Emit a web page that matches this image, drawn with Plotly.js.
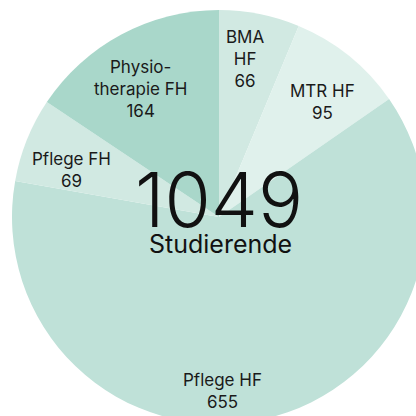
<!DOCTYPE html>
<html>
<head>
<meta charset="utf-8">
<script src="https://cdn.plot.ly/plotly-3.0.1.min.js"></script>
<style>
  html, body { margin: 0; padding: 0; overflow: hidden; background: #ffffff; }
  #chart { width: 440px; height: 440px; }
</style>
</head>
<body>
<div id="chart"></div>
<script>
// Data
const categories = ["BMA HF", "MTR HF", "Pflege HF", "Pflege FH", "Physiotherapie FH"];
const labelLines = [["BMA", "HF"], ["MTR HF"], ["Pflege HF"], ["Pflege FH"], ["Physio-", "therapie FH"]];
const values = [66, 95, 655, 69, 164];
const totalLabel = "Studierende";

// Styles
const colors = ["#d1e9e2", "#e0f1ec", "#bfe1d8", "#d1e9e2", "#a9d7ca"];
const labelPixelPos = [[245, 59], [322, 102], [222, 391], [71, 170], [140, 89]];

const W = 440, H = 440;
const M = { l: 12, r: 14, t: 10, b: 16 };
const PW = W - M.l - M.r, PH = H - M.t - M.b;
const px = x => (x - M.l) / PW;
const py = y => 1 - (y - M.t) / PH;

const total = values.reduce((a, b) => a + b, 0);
const fontFam = "Inter, 'Liberation Sans', Arial, sans-serif";

const annotations = categories.map((c, i) => ({
  text: labelLines[i].concat([String(values[i])]).join("<br>"),
  x: px(labelPixelPos[i][0]), y: py(labelPixelPos[i][1]),
  xref: "paper", yref: "paper", showarrow: false,
  xanchor: "center", yanchor: "middle",
  font: { family: fontFam, size: 17, color: "#1a1a1a" }
}));
annotations.push({
  text: String(total), x: px(219), y: py(199), xref: "paper", yref: "paper",
  showarrow: false, xanchor: "center", yanchor: "middle",
  font: { family: fontFam, size: 75, color: "#111111", weight: 300 }
});
annotations.push({
  text: totalLabel, x: px(220), y: py(244), xref: "paper", yref: "paper",
  showarrow: false, xanchor: "center", yanchor: "middle",
  font: { family: fontFam, size: 25, color: "#111111" }
});

const trace = {
  type: "pie",
  labels: categories,
  values: values,
  sort: false,
  direction: "clockwise",
  rotation: 0,
  textinfo: "none",
  hoverinfo: "label+value",
  marker: { colors: colors, line: { width: 0 } },
  domain: { x: [0, 1], y: [0, 1] }
};

Plotly.newPlot("chart", [trace], {
  width: W, height: H,
  margin: M,
  showlegend: false,
  paper_bgcolor: "#ffffff",
  annotations: annotations
}, { displayModeBar: false, staticPlot: true });
</script>
</body>
</html>
